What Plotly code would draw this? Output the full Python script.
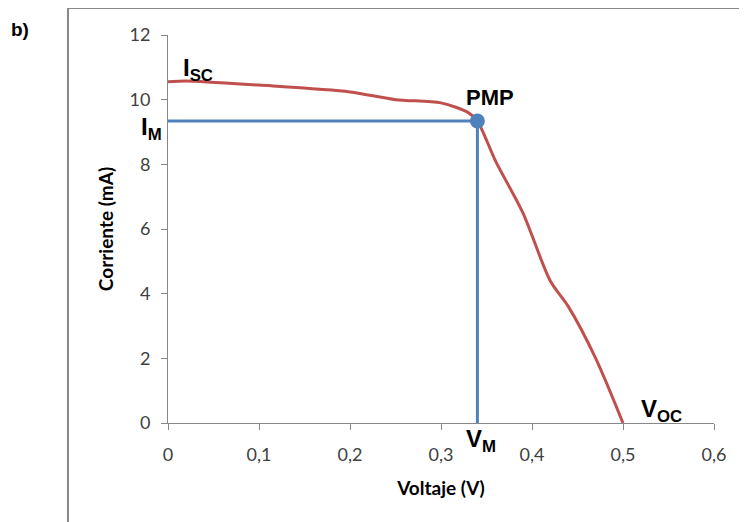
import plotly.graph_objects as go

# I-V curve of the cell
voltage = [0, 0.02, 0.1, 0.2, 0.25, 0.3, 0.33, 0.34, 0.36, 0.39, 0.42, 0.44, 0.47, 0.5]
current = [10.55, 10.58, 10.45, 10.24, 10.0, 9.9, 9.6, 9.34, 8.1, 6.5, 4.4, 3.6, 2.0, 0]

# Maximum power point
v_m = 0.34
i_m = 9.34

x_ticks = [0, 0.1, 0.2, 0.3, 0.4, 0.5, 0.6]
x_tick_labels = ["0", "0,1", "0,2", "0,3", "0,4", "0,5", "0,6"]
y_ticks = [0, 2, 4, 6, 8, 10, 12]

RED = "#C0504D"
BLUE = "#4F81BD"
AX = "#888888"
ARIAL = "Liberation Sans, Arial"
CAL = "Lato, Open Sans"

fig = go.Figure()
fig.add_trace(go.Scatter(x=voltage, y=current, mode="lines",
                         line=dict(color=RED, width=3, shape="spline", smoothing=0.8),
                         hoverinfo="skip"))
fig.add_trace(go.Scatter(x=[0, v_m, v_m], y=[i_m, i_m, 0], mode="lines",
                         line=dict(color=BLUE, width=3), hoverinfo="skip"))
fig.add_trace(go.Scatter(x=[v_m], y=[i_m], mode="markers",
                         marker=dict(color=BLUE, size=15), hoverinfo="skip"))

lab = dict(family=ARIAL, size=24, color="black")
anns = [
    dict(x=0.024, y=0.91, text="<b>I<sub>SC</sub></b>", xanchor="left", yanchor="middle"),
    dict(x=0.543, y=0.84, text="<b>PMP</b>", xanchor="left", yanchor="middle"),
    dict(x=-0.008, y=0.76, text="<b>I<sub>M</sub></b>", xanchor="right", yanchor="middle"),
    dict(x=0.5733, y=-0.045, text="<b>V<sub>M</sub></b>", xanchor="center", yanchor="middle"),
    dict(x=0.862, y=0.033, text="<b>V<sub>OC</sub></b>", xanchor="left", yanchor="middle"),
]
for a in anns:
    a.update(xref="paper", yref="paper", showarrow=False, font=lab)
anns[1]["font"] = dict(family=ARIAL, size=22, color="black")
anns.append(dict(x=-0.271, y=1.013, xref="paper", yref="paper", text="<b>b)</b>",
                 showarrow=False, xanchor="center", yanchor="middle",
                 font=dict(family=ARIAL, size=19, color="black")))

fig.update_layout(
    width=747, height=522,
    margin=dict(l=160, r=41, t=27, b=107),
    paper_bgcolor="white", plot_bgcolor="white",
    showlegend=False,
    annotations=anns,
    shapes=[
        dict(type="line", xref="paper", yref="paper", x0=-0.1832, x1=-0.1832, y0=1.0696, y1=-0.3,
             line=dict(color=AX, width=2)),
        dict(type="line", xref="paper", yref="paper", x0=-0.1832, x1=1.2, y0=1.0696, y1=1.0696,
             line=dict(color=AX, width=2)),
    ],
    xaxis=dict(range=[0, 0.6], tickvals=x_ticks, ticktext=x_tick_labels,
               showgrid=False, zeroline=False, showline=True, linecolor=AX, linewidth=1,
               ticks="outside", ticklen=6, tickcolor=AX, ticklabelstandoff=9,
               tickfont=dict(family=CAL, size=18, color="#404040"),
               title=dict(text="<b>Voltaje (V)</b>", standoff=18,
                          font=dict(family=CAL, size=19, color="black"))),
    yaxis=dict(range=[0, 12], tickvals=y_ticks,
               showgrid=False, zeroline=False, showline=True, linecolor=AX, linewidth=1,
               ticks="outside", ticklen=6, tickcolor=AX, ticklabelstandoff=7,
               tickfont=dict(family=CAL, size=18, color="#404040"),
               title=dict(text="<b>Corriente (mA)</b>", standoff=10,
                          font=dict(family=CAL, size=19, color="black"))),
)

fig.write_html("out.html")
